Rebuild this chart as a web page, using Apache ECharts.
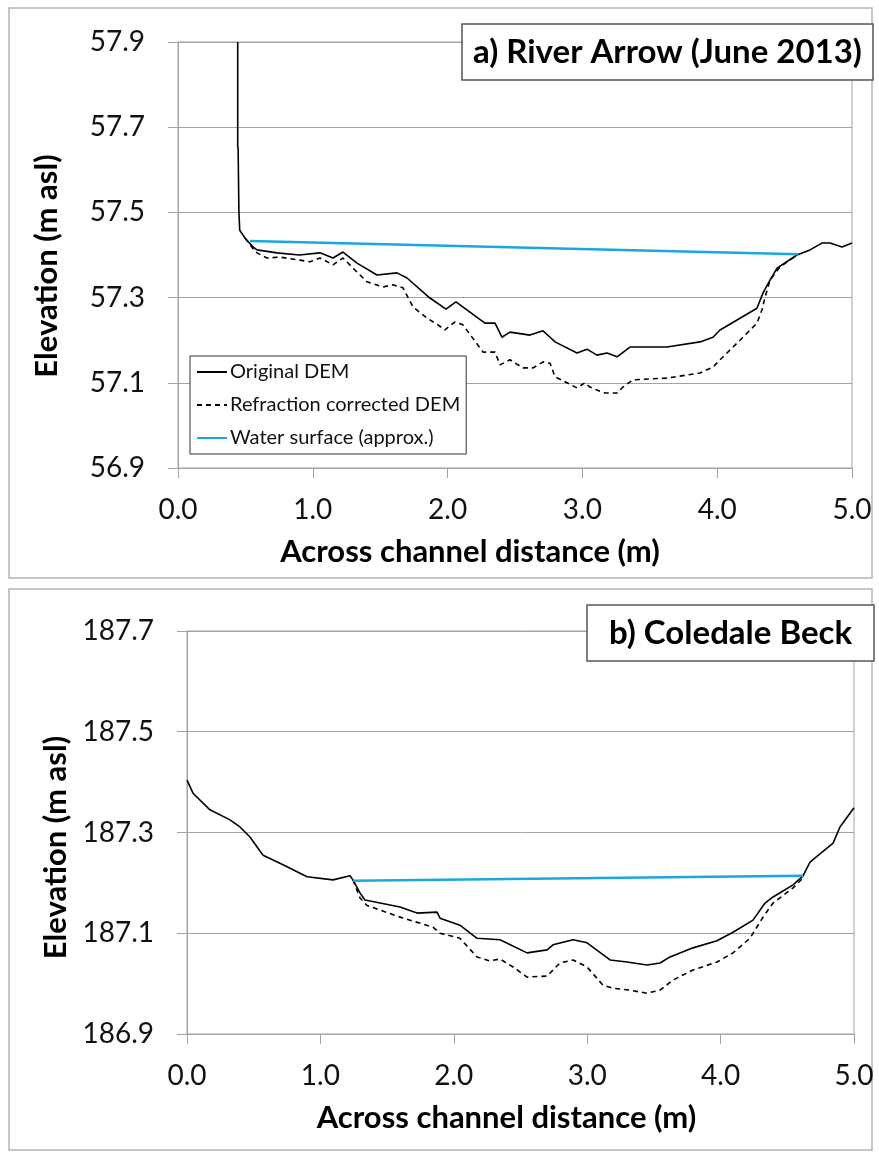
<!DOCTYPE html>
<html>
<head>
<meta charset="utf-8">
<script src="https://cdn.jsdelivr.net/npm/echarts@6/dist/echarts.min.js"></script>
<style>
  html, body { margin: 0; padding: 0; background: #fff; }
  #chart { width: 879px; height: 1156px; }
</style>
</head>
<body>
<div id="chart"></div>
<script>
  // panel a) River Arrow (June 2013)
  const aOrigX = [0.443, 0.443, 0.446, 0.452, 0.458, 0.497, 0.556, 0.586, 0.734, 0.9, 1.053, 1.15, 1.224, 1.328, 1.476, 1.625, 1.699, 1.869, 1.988, 2.062, 2.277, 2.352, 2.403, 2.463, 2.611, 2.708, 2.76, 2.797, 2.96, 3.034, 3.108, 3.183, 3.257, 3.353, 3.501, 3.627, 3.872, 3.969, 4.021, 4.295, 4.34, 4.392, 4.444, 4.592, 4.688, 4.777, 4.837, 4.926, 5.0]
  const aOrigY = [57.9, 57.655, 57.65, 57.5, 57.458, 57.44, 57.419, 57.412, 57.405, 57.4, 57.405, 57.393, 57.407, 57.381, 57.353, 57.358, 57.346, 57.299, 57.273, 57.29, 57.24, 57.24, 57.207, 57.219, 57.212, 57.222, 57.207, 57.196, 57.17, 57.179, 57.165, 57.17, 57.161, 57.184, 57.184, 57.184, 57.196, 57.207, 57.224, 57.275, 57.311, 57.341, 57.369, 57.4, 57.412, 57.428, 57.428, 57.419, 57.428]
  const aCorrX = [0.497, 0.556, 0.586, 0.66, 0.757, 0.905, 0.979, 1.053, 1.15, 1.224, 1.328, 1.402, 1.521, 1.595, 1.669, 1.743, 1.847, 1.929, 1.98, 2.055, 2.114, 2.263, 2.352, 2.389, 2.463, 2.559, 2.634, 2.708, 2.76, 2.797, 2.96, 3.019, 3.056, 3.108, 3.168, 3.257, 3.301, 3.375, 3.501, 3.627, 3.872, 3.969, 4.021, 4.169, 4.295, 4.332, 4.355, 4.392, 4.466, 4.592]
  const aCorrY = [57.44, 57.415, 57.405, 57.393, 57.395, 57.388, 57.384, 57.393, 57.377, 57.393, 57.36, 57.337, 57.325, 57.33, 57.323, 57.278, 57.252, 57.236, 57.224, 57.243, 57.236, 57.172, 57.172, 57.142, 57.154, 57.135, 57.135, 57.149, 57.146, 57.114, 57.088, 57.1, 57.09, 57.083, 57.076, 57.076, 57.09, 57.107, 57.109, 57.111, 57.123, 57.137, 57.154, 57.2, 57.24, 57.271, 57.301, 57.341, 57.372, 57.4]
  const aWaterX = [0.534, 4.6]
  const aWaterY = [57.433, 57.402]

  // panel b) Coledale Beck
  const bOrigX = [0.0, 0.045, 0.172, 0.322, 0.397, 0.472, 0.57, 0.72, 0.9, 1.094, 1.222, 1.244, 1.297, 1.334, 1.447, 1.597, 1.724, 1.874, 1.897, 2.046, 2.174, 2.346, 2.549, 2.699, 2.744, 2.894, 2.999, 3.171, 3.298, 3.448, 3.546, 3.621, 3.793, 3.973, 4.093, 4.243, 4.333, 4.393, 4.543, 4.618, 4.67, 4.843, 4.895, 5.0]
  const bOrigY = [187.404, 187.378, 187.345, 187.325, 187.311, 187.291, 187.255, 187.236, 187.212, 187.206, 187.214, 187.206, 187.18, 187.166, 187.16, 187.152, 187.14, 187.142, 187.13, 187.116, 187.09, 187.087, 187.061, 187.067, 187.077, 187.087, 187.081, 187.047, 187.043, 187.037, 187.041, 187.053, 187.071, 187.085, 187.102, 187.126, 187.16, 187.172, 187.196, 187.214, 187.241, 187.279, 187.311, 187.349]
  const bCorrX = [1.244, 1.297, 1.35, 1.597, 1.844, 1.897, 2.046, 2.174, 2.271, 2.346, 2.444, 2.549, 2.699, 2.796, 2.894, 2.999, 3.118, 3.193, 3.321, 3.448, 3.546, 3.643, 3.793, 3.973, 4.093, 4.22, 4.318, 4.393, 4.543, 4.618]
  const bCorrY = [187.206, 187.17, 187.155, 187.132, 187.112, 187.1, 187.09, 187.053, 187.045, 187.049, 187.033, 187.013, 187.015, 187.041, 187.047, 187.033, 186.997, 186.991, 186.987, 186.981, 186.987, 187.007, 187.027, 187.043, 187.061, 187.09, 187.132, 187.16, 187.19, 187.21]
  const bWaterX = [1.244, 4.618]
  const bWaterY = [187.204, 187.214]

  const xTicks = [0, 1, 2, 3, 4, 5]
  const aYTicks = [56.9, 57.1, 57.3, 57.5, 57.7, 57.9]
  const bYTicks = [186.9, 187.1, 187.3, 187.5, 187.7]

  const FONT = 'Lato'
  const GRAY = '#a3a3a3'

  function pairs (xs, ys) {
    return xs.map((x, i) => [x, ys[i]])
  }

  // shiftLeft / shiftDown move the axis titles off the plot centre, as in the original
  function xAxisFor (gridIndex, shiftLeft) {
    return {
      type: 'value',
      gridIndex: gridIndex,
      min: xTicks[0],
      max: xTicks[xTicks.length - 1],
      interval: 1,
      name: 'Across channel distance (m)',
      nameLocation: 'middle',
      nameGap: 68,
      nameTextStyle: {
        fontFamily: FONT, fontSize: 31, fontWeight: 'bold', color: '#000',
        padding: [0, shiftLeft * 2, 0, 0]
      },
      axisLine: { show: true, onZero: false, lineStyle: { color: GRAY, width: 1 } },
      axisTick: { show: true, length: 10, lineStyle: { color: GRAY } },
      axisLabel: {
        margin: 28, fontFamily: FONT, fontSize: 28, color: '#111',
        formatter: v => v.toFixed(1)
      },
      splitLine: { show: false }
    }
  }

  function yAxisFor (gridIndex, ticks, shiftDown) {
    return {
      type: 'value',
      gridIndex: gridIndex,
      min: ticks[0],
      max: ticks[ticks.length - 1],
      interval: 0.2,
      name: 'Elevation (m asl)',
      nameLocation: 'middle',
      nameGap: 116,
      nameRotate: 90,
      nameTextStyle: {
        fontFamily: FONT, fontSize: 31, fontWeight: 'bold', color: '#000',
        padding: [0, shiftDown * 2, 0, 0]
      },
      axisLine: { show: true, lineStyle: { color: GRAY, width: 1 } },
      axisTick: { show: true, length: 10, lineStyle: { color: GRAY } },
      axisLabel: {
        margin: 33, fontFamily: FONT, fontSize: 28, color: '#111',
        formatter: v => v.toFixed(1)
      },
      splitLine: { show: true, lineStyle: { color: GRAY, width: 1 } }
    }
  }

  function lineSeries (name, gi, xs, ys, color, width, type) {
    return {
      name: name,
      type: 'line',
      xAxisIndex: gi,
      yAxisIndex: gi,
      data: pairs(xs, ys),
      symbol: 'none',
      lineStyle: { color: color, width: width, type: type },
      itemStyle: { color: color },
      silent: true
    }
  }

  let chart = echarts.init(document.getElementById('chart'), null, { renderer: 'canvas' })
  chart.setOption({
    animation: false,
    backgroundColor: '#fff',
    graphic: [
      { type: 'rect', shape: { x: 9, y: 8, width: 863, height: 570 }, style: { fill: 'none', stroke: '#b5b5b5', lineWidth: 1.5 }, z: -10 },
      { type: 'rect', shape: { x: 9, y: 589, width: 863, height: 561 }, style: { fill: 'none', stroke: '#b5b5b5', lineWidth: 1.5 }, z: -10 }
    ],
    title: [
      {
        text: 'a) River Arrow (June 2013)',
        left: 462, top: 24,
        padding: [9, 11, 9, 11],
        borderColor: '#555', borderWidth: 1.5, backgroundColor: '#fff',
        textStyle: { fontFamily: FONT, fontSize: 33, fontWeight: 'bold', color: '#000', lineHeight: 38 }
      },
      {
        text: 'b) Coledale Beck',
        left: 587, top: 605,
        padding: [9, 22, 9, 22],
        borderColor: '#555', borderWidth: 1.5, backgroundColor: '#fff',
        textStyle: { fontFamily: FONT, fontSize: 33, fontWeight: 'bold', color: '#000', lineHeight: 38 }
      }
    ],
    legend: {
      data: ['Original DEM', 'Refraction corrected DEM', 'Water surface (approx.)'],
      orient: 'vertical',
      left: 190, top: 356,
      padding: [6, 6, 6, 6],
      itemWidth: 30, itemHeight: 20, itemGap: 13,
      itemStyle: { opacity: 0 },
      borderColor: '#333', borderWidth: 1, backgroundColor: '#fff',
      selectedMode: false,
      textStyle: { fontFamily: FONT, fontSize: 20, color: '#111', padding: [0, 0, 0, -2] }
    },
    grid: [
      { left: 178, top: 42, width: 674, height: 426, show: true, borderColor: GRAY, borderWidth: 1 },
      { left: 187, top: 631, width: 667, height: 403, show: true, borderColor: GRAY, borderWidth: 1 }
    ],
    xAxis: [xAxisFor(0, 45), xAxisFor(1, 14)],
    yAxis: [yAxisFor(0, aYTicks, 11), yAxisFor(1, bYTicks, 15)],
    series: [
      lineSeries('Original DEM', 0, aOrigX, aOrigY, '#000', 1.6, 'solid'),
      lineSeries('Refraction corrected DEM', 0, aCorrX, aCorrY, '#000', 1.6, [5, 4]),
      lineSeries('Water surface (approx.)', 0, aWaterX, aWaterY, '#1aa7e0', 2.5, 'solid'),
      lineSeries('Original DEM', 1, bOrigX, bOrigY, '#000', 1.6, 'solid'),
      lineSeries('Refraction corrected DEM', 1, bCorrX, bCorrY, '#000', 1.6, [5, 4]),
      lineSeries('Water surface (approx.)', 1, bWaterX, bWaterY, '#1aa7e0', 2.5, 'solid')
    ]
  })
</script>
</body>
</html>
